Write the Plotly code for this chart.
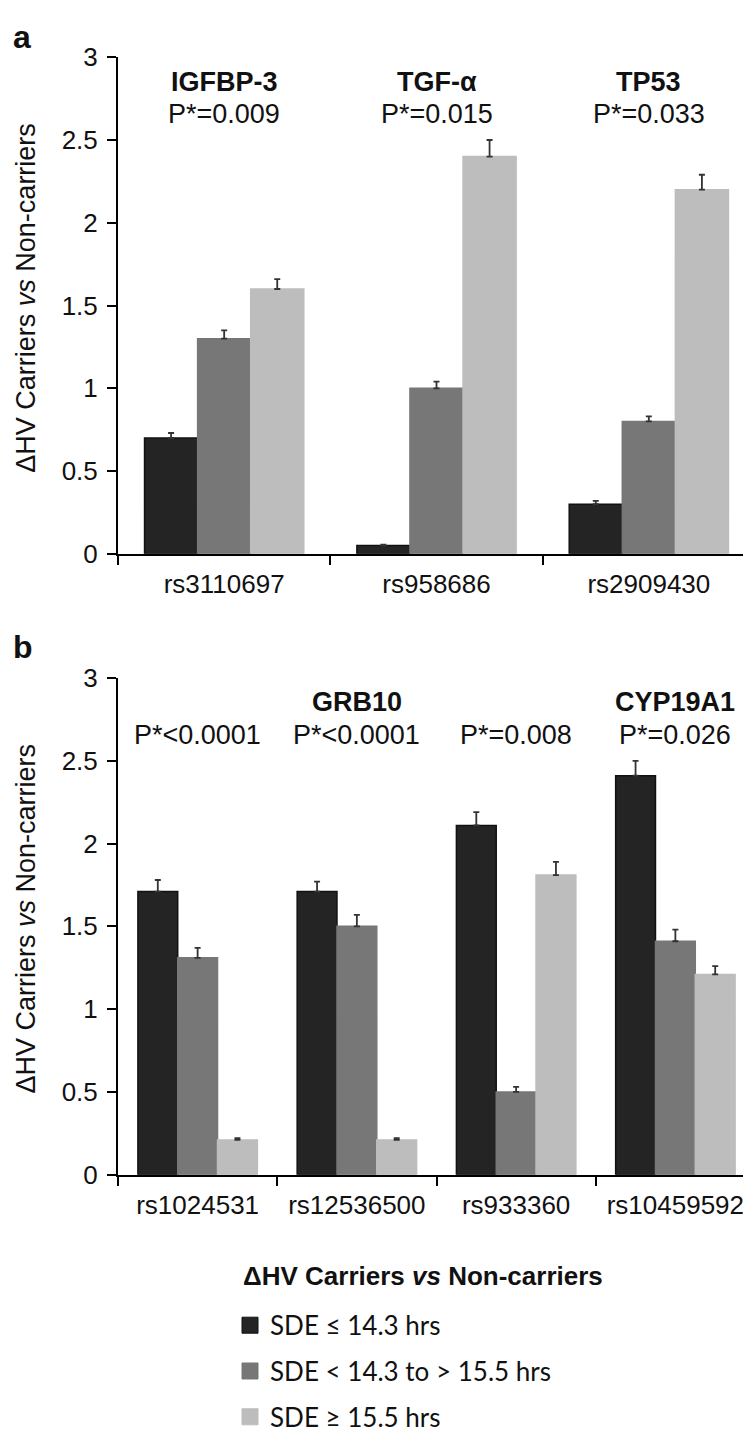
import plotly.graph_objects as go

# ---------------- data ----------------
series_names = ["SDE \u2264 14.3 hrs", "SDE < 14.3 to > 15.5 hrs", "SDE \u2265 15.5 hrs"]
series_colors = ["#242424", "#777777", "#bdbdbd"]
legend_title = "<b>\u0394HV Carriers <i>vs</i> Non-carriers</b>"
y_title = "\u0394HV Carriers <i>vs</i> Non-carriers"

cats_a = ["rs3110697", "rs958686", "rs2909430"]
vals_a_low = [0.70, 0.05, 0.30]
vals_a_mid = [1.30, 1.00, 0.80]
vals_a_high = [1.60, 2.40, 2.20]
err_a_low = [0.03, 0.005, 0.02]
err_a_mid = [0.05, 0.04, 0.03]
err_a_high = [0.06, 0.10, 0.09]
genes_a = ["IGFBP-3", "TGF-\u03b1", "TP53"]
pvals_a = ["P*=0.009", "P*=0.015", "P*=0.033"]

cats_b = ["rs1024531", "rs12536500", "rs933360", "rs10459592"]
vals_b_low = [1.71, 1.71, 2.11, 2.41]
vals_b_mid = [1.31, 1.50, 0.50, 1.41]
vals_b_high = [0.21, 0.21, 1.81, 1.21]
err_b_low = [0.07, 0.06, 0.08, 0.09]
err_b_mid = [0.06, 0.07, 0.03, 0.07]
err_b_high = [0.01, 0.01, 0.08, 0.05]
genes_b = ["", "GRB10", "", "CYP19A1"]
pvals_b = ["P*<0.0001", "P*<0.0001", "P*=0.008", "P*=0.026"]

y_ticks = [0, 0.5, 1, 1.5, 2, 2.5, 3]
y_ticklabels = ["0", "0.5", "1", "1.5", "2", "2.5", "3"]

# ---------------- layout helpers ----------------
W, H = 751, 1433
def px(x):
    return x / W
def py(y):
    return 1 - y / H

FONT = "Liberation Sans"
LEGFONT = "Lato"
INK = "#111111"

fig = go.Figure()

def add_panel(cats, lows, mids, highs, elow, emid, ehigh, xa, ya):
    for i, (name, col, vals, errs) in enumerate(zip(series_names, series_colors,
                                                    [lows, mids, highs], [elow, emid, ehigh])):
        fig.add_trace(go.Bar(
            x=cats, y=vals, name=name, xaxis=xa, yaxis=ya,
            marker=dict(color=col,
                        line=dict(color=INK if i == 0 else col, width=1.5)),
            error_y=dict(type="data", array=errs, arrayminus=[0] * len(errs),
                         symmetric=False, color="#333333", thickness=1.8, width=3),
            showlegend=False,
        ))

add_panel(cats_a, vals_a_low, vals_a_mid, vals_a_high, err_a_low, err_a_mid, err_a_high, "x", "y")
add_panel(cats_b, vals_b_low, vals_b_mid, vals_b_high, err_b_low, err_b_mid, err_b_high, "x2", "y2")

# legend entries with large square swatches
for i, (name, col) in enumerate(zip(series_names, series_colors)):
    fig.add_trace(go.Scatter(
        x=[None], y=[None], mode="markers", name=name, xaxis="x2", yaxis="y2",
        marker=dict(symbol="square", size=22, color=col,
                    line=dict(color=INK if i == 0 else col, width=1)),
        legendgroup=f"g{i}", showlegend=True,
    ))

line_common = dict(
    showline=True, linecolor="black", linewidth=2,
    ticks="outside", ticklen=9, tickwidth=2, tickcolor="black",
    showgrid=False, zeroline=False,
)
xtick_font = dict(family=FONT, size=26, color=INK)
ytick_font = dict(family=FONT, size=26, color=INK)

xdomain = [px(110), px(747)]
fig.update_layout(
    width=W, height=H, autosize=False,
    margin=dict(l=0, r=0, t=0, b=0),
    paper_bgcolor="white", plot_bgcolor="white",
    barmode="group", bargap=0.25, bargroupgap=0,
    font=dict(family=FONT, color=INK),
    xaxis=dict(domain=xdomain, anchor="y", type="category", tickson="boundaries",
               ticklabelstandoff=6, tickfont=xtick_font, **line_common),
    yaxis=dict(domain=[py(543), py(35)], anchor="x", range=[0, 3],
               tickvals=y_ticks, ticktext=y_ticklabels, ticklabelstandoff=4,
               tickfont=ytick_font, **line_common),
    xaxis2=dict(domain=xdomain, anchor="y2", type="category", tickson="boundaries",
                ticklabelstandoff=6, tickfont=xtick_font, **line_common),
    yaxis2=dict(domain=[py(1178), py(670)], anchor="x2", range=[0, 3],
                tickvals=y_ticks, ticktext=y_ticklabels, ticklabelstandoff=4,
                tickfont=ytick_font, **line_common),
    legend=dict(
        x=px(222), y=py(1308), xanchor="left", yanchor="top",
        bgcolor="rgba(0,0,0,0)",
        font=dict(family=LEGFONT, size=26, color=INK),
        tracegroupgap=9, itemsizing="trace", itemwidth=30,
    ),
)

annotations = []
# gene names and P-values
for cats, genes, pvals, xr, yr in [(cats_a, genes_a, pvals_a, "x", "y"),
                                   (cats_b, genes_b, pvals_b, "x2", "y2")]:
    for c, g, p in zip(cats, genes, pvals):
        if g:
            annotations.append(dict(x=c, y=2.853, xref=xr, yref=yr, text=f"<b>{g}</b>",
                                    showarrow=False, yanchor="middle",
                                    font=dict(family=FONT, size=27, color=INK)))
        annotations.append(dict(x=c, y=2.658, xref=xr, yref=yr, text=p,
                                showarrow=False, yanchor="middle",
                                font=dict(family=FONT, size=27, color=INK)))

# y-axis titles
for ycen in [281, 916]:
    annotations.append(dict(x=px(18), y=py(ycen), xref="paper", yref="paper",
                            text=y_title, textangle=-90, showarrow=False,
                            xanchor="center", yanchor="middle",
                            font=dict(family=FONT, size=27, color=INK)))

# legend heading
annotations.append(dict(x=px(233), y=py(1282), xref="paper", yref="paper",
                        text=legend_title, showarrow=False,
                        xanchor="left", yanchor="middle",
                        font=dict(family=FONT, size=26, color=INK)))

# panel letters
annotations.append(dict(x=px(3), y=py(14), xref="paper", yref="paper", text="<b>a</b>",
                        showarrow=False, xanchor="left", yanchor="middle",
                        font=dict(family=FONT, size=32, color=INK)))
annotations.append(dict(x=px(3), y=py(638), xref="paper", yref="paper", text="<b>b</b>",
                        showarrow=False, xanchor="left", yanchor="middle",
                        font=dict(family=FONT, size=32, color=INK)))

fig.update_layout(annotations=annotations)

fig.write_html("out.html")
